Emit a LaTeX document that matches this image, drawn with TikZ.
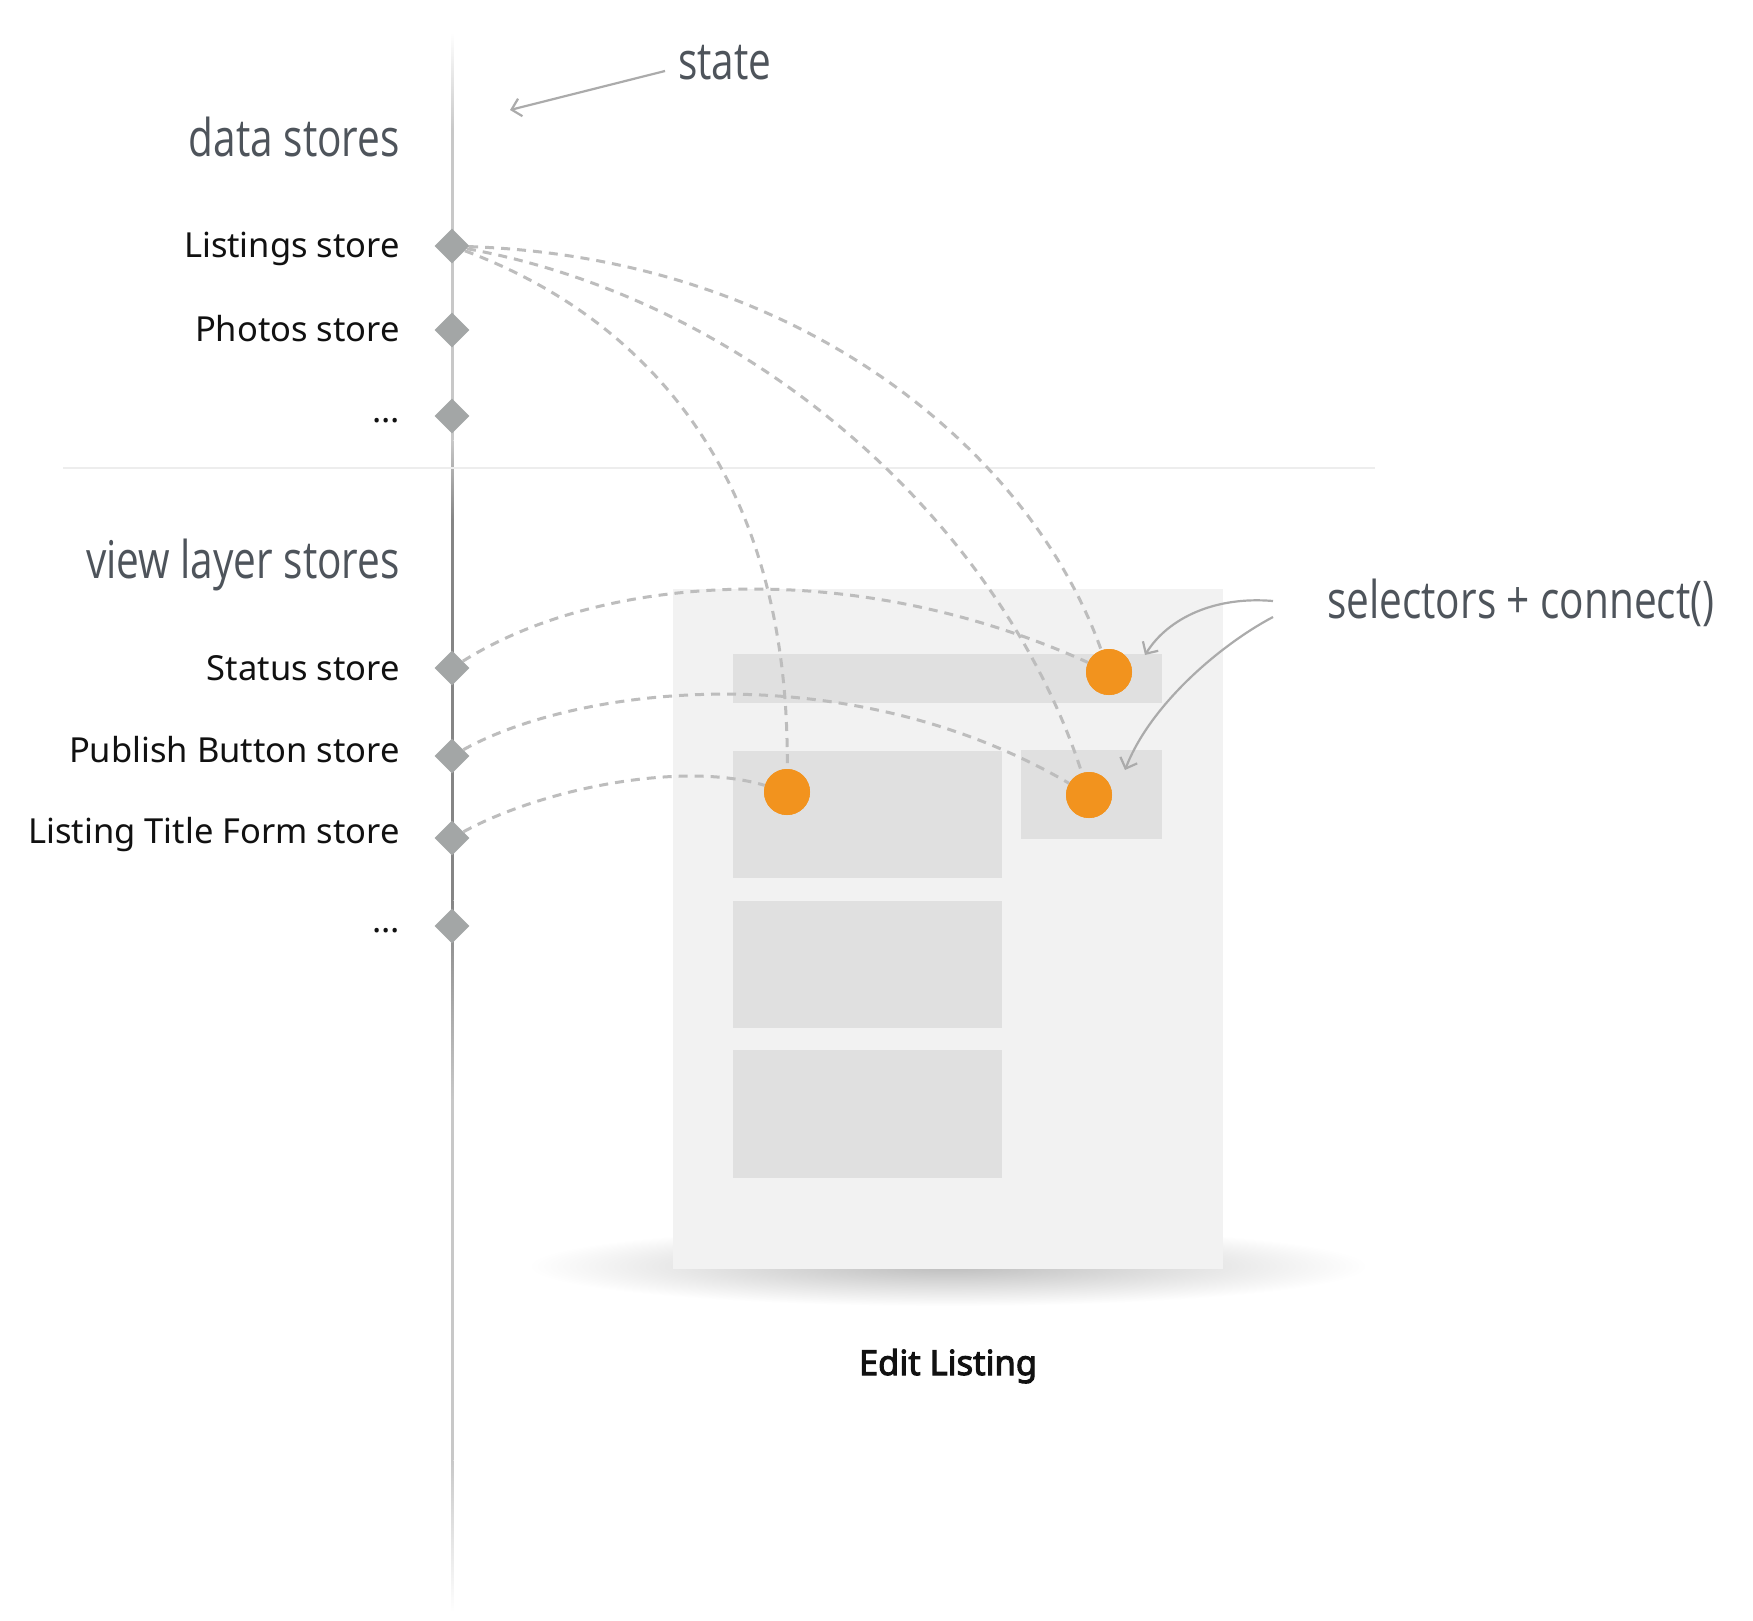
\documentclass[tikz,border=0pt]{standalone}
\usepackage{fontspec}
\setmainfont{Noto Sans}
\newfontfamily\handfont[FakeStretch=0.78]{Open Sans}
\newfontfamily\capfont[FakeBold=3]{Noto Sans}
\usetikzlibrary{shapes.geometric,arrows.meta}
\definecolor{txt}{HTML}{111111}
\definecolor{hand}{HTML}{4E545B}
\definecolor{dia}{HTML}{A3A6A6}
\definecolor{dashc}{HTML}{BDBDBD}
\definecolor{orng}{HTML}{F2931E}
\definecolor{panelc}{HTML}{F2F2F2}
\definecolor{blockc}{HTML}{E0E0E0}
\definecolor{arrowc}{HTML}{ABABAB}
\definecolor{lineL}{HTML}{C8C8C8}
\definecolor{lineD}{HTML}{858585}
\definecolor{sepc}{HTML}{EDEDED}
\begin{document}
\begin{tikzpicture}[x=1pt,y=-1pt,
  lbl/.style={anchor=base east, font=\fontsize{34.5}{40}\selectfont, text=txt, inner sep=0},
  hlbl/.style={font=\handfont\fontsize{52}{60}\selectfont, text=hand, inner sep=0},
  dmd/.style={diamond, fill=dia, minimum size=35pt, inner sep=0},
  dot/.style={circle, fill=orng, minimum size=46pt, inner sep=0},
  conn/.style={draw=dashc, line width=3pt, dash pattern=on 9pt off 7pt},
  note/.style={draw=arrowc, line width=2.2pt, -{Straight Barb[length=9pt,width=18pt]}},
  blk/.style={fill=blockc}]
\useasboundingbox (0,0) rectangle (1753,1620);
\fill[white] (0,0) rectangle (1753,1620);

% vertical state line
\shade[top color=white, bottom color=lineL] (451,33) rectangle (453.5,130);
\fill[lineL] (451,130) rectangle (453.5,440);
\shade[top color=lineL, bottom color=lineD] (451,440) rectangle (453.5,520);
\fill[lineD] (451,520) rectangle (453.5,900);
\shade[top color=lineD, bottom color=lineL] (451,900) rectangle (453.5,1100);
\fill[lineL] (451,1100) rectangle (453.5,1460);
\shade[top color=lineL, bottom color=white] (451,1460) rectangle (453.5,1612);

% separator
\draw[sepc, line width=1.5pt] (63,468) -- (1375,468);

% panel with shadow
\shade[inner color=black!26, outer color=white] (948,1266) ellipse [x radius=420, y radius=40];
\fill[panelc] (673,589) rectangle (1223,1269);
\fill[blk] (733,654) rectangle (1162,703);
\fill[blk] (733,751) rectangle (1002,878);
\fill[blk] (1021,750) rectangle (1162,839);
\fill[blk] (733,901) rectangle (1002,1028);
\fill[blk] (733,1050) rectangle (1002,1178);

% headings
\node[hlbl, anchor=base west] (state) at (678,79) {state};
\node[hlbl, anchor=base east] (dstores) at (400,156) {data stores};
\node[hlbl, anchor=base east] (vstores) at (400,578) {view layer stores};
\node[hlbl, anchor=base west] (sel) at (1327,618) {selectors + connect()};

% store labels
\node[lbl] (lls) at (400,257) {Listings store};
\node[lbl] (lph) at (400,341) {Photos store};
\node[lbl] (le1) at (400,422) {…};
\node[lbl] (lst) at (400,680) {Status store};
\node[lbl] (lpb) at (400,762) {Publish Button store};
\node[lbl] (llt) at (400,843) {Listing Title Form store};
\node[lbl] (le2) at (400,932) {…};

% diamonds
\node[dmd] (ls) at (452,246) {};
\node[dmd] (ph) at (452,330) {};
\node[dmd] (e1) at (452,416) {};
\node[dmd] (st) at (452,668) {};
\node[dmd] (pb) at (452,756) {};
\node[dmd] (lt) at (452,838) {};
\node[dmd] (e2) at (452,926) {};

% orange dots
\node[dot] (dot1) at (1109,672) {};
\node[dot] (dot2) at (787,792) {};
\node[dot] (dot3) at (1089,795) {};

% dashed connections
\draw[conn] (ls) .. controls (800,258) and (1030,450) .. (dot1);
\draw[conn] (ls) .. controls (750,300) and (1000,520) .. (dot3);
\draw[conn] (ls) .. controls (650,320) and (790,480) .. (dot2);
\draw[conn] (st) .. controls (600,575) and (850,555) .. (dot1);
\draw[conn] (pb) .. controls (580,685) and (850,655) .. (dot3);
\draw[conn] (lt) .. controls (540,790) and (680,760) .. (dot2);
% redraw dots on top
\fill[orng] (dot1) circle (23);
\fill[orng] (dot2) circle (23);
\fill[orng] (dot3) circle (23);

% annotation arrows
\coordinate (sa) at (665,71);
\coordinate (sb) at (510,110);
\draw[note] (sa) -- (sb);
\coordinate (s1) at (1273,601);
\coordinate (a1) at (1145,655);
\draw[note] (s1) .. controls (1215,596) and (1168,618) .. (a1);
\coordinate (s2) at (1273,617);
\coordinate (a2) at (1125,770);
\draw[note] (s2) .. controls (1220,645) and (1150,705) .. (a2);

% caption
\node[font=\capfont\fontsize{34.5}{40}\selectfont, text=txt, anchor=base, inner sep=0] (cap) at (948,1375) {Edit Listing};
\end{tikzpicture}
\end{document}
